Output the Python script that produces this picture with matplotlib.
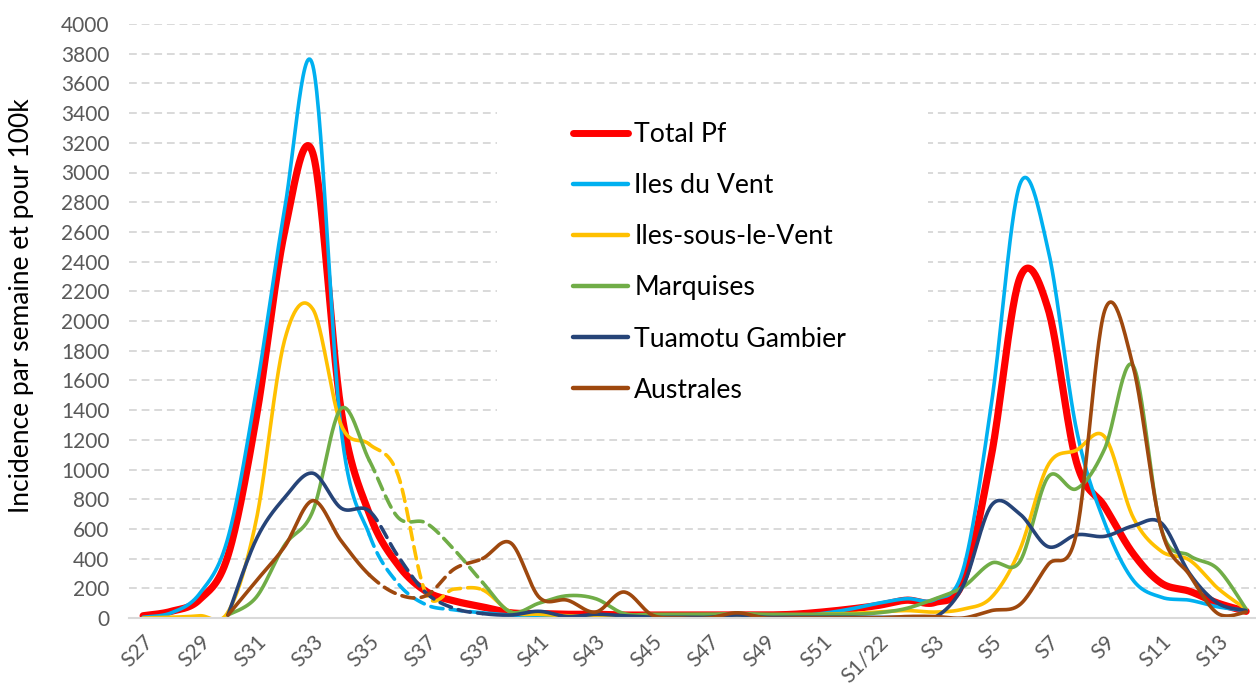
import numpy as np
import matplotlib
matplotlib.use("Agg")
import matplotlib.pyplot as plt
from matplotlib.lines import Line2D
from matplotlib.patches import Rectangle

plt.rcParams['font.family'] = ['Lato', 'DejaVu Sans']

# weekly incidence per 100k, S27/2021 -> S14/2022
weeks = ['S27', 'S28', 'S29', 'S30', 'S31', 'S32', 'S33', 'S34', 'S35', 'S36',
         'S37', 'S38', 'S39', 'S40', 'S41', 'S42', 'S43', 'S44', 'S45', 'S46',
         'S47', 'S48', 'S49', 'S50', 'S51', 'S52', 'S1/22', 'S2', 'S3', 'S4',
         'S5', 'S6', 'S7', 'S8', 'S9', 'S10', 'S11', 'S12', 'S13', 'S14']

total_pf = [15, 45, 125, 420, 1350, 2600, 3130, 1400, 700, 360,
            180, 115, 75, 35, 30, 25, 25, 20, 20, 20,
            20, 20, 20, 25, 40, 60, 85, 120, 105, 250,
            1100, 2290, 2080, 1050, 750, 435, 235, 180, 100, 45]

iles_du_vent = [5, 35, 165, 540, 1530, 2750, 3720, 1270, 560, 235,
                90, 55, 35, 20, 15, 10, 10, 8, 8, 8,
                8, 8, 8, 10, 30, 60, 100, 130, 125, 330,
                1450, 2920, 2480, 1270, 640, 256, 140, 120, 75, 50]

iles_sous_le_vent = [0, 5, 15, 40, 660, 1870, 2080, 1300, 1170, 970,
                     165, 195, 190, 40, 25, 15, 10, 10, 5, 5,
                     5, 5, 5, 5, 25, 30, 40, 50, 40, 60,
                     140, 460, 1030, 1130, 1220, 680, 450, 390, 200, 60]

marquises = [None, None, None, 20, 140, 490, 720, 1410, 1060, 680,
             640, 460, 240, 40, 100, 150, 130, 30, 25, 25,
             25, 30, 25, 25, 25, 25, 35, 65, 130, 210,
             370, 380, 950, 870, 1140, 1700, 600, 420, 330, 60]

tuamotu_gambier = [None, None, None, 20, 530, 810, 975, 740, 720, 420,
                   170, 65, 30, 20, 45, 10, 25, 15, 5, 5,
                   5, 20, 5, 5, 5, 5, 5, 5, 5, 220,
                   760, 700, 480, 560, 550, 620, 640, 300, 100, 50]

australes = [None, None, None, 20, 250, 480, 790, 520, 290, 160,
             150, 330, 400, 505, 140, 120, 40, 175, 20, 0,
             0, 35, 0, 0, 0, 0, 0, 10, 10, 0,
             50, 90, 360, 570, 2070, 1700, 600, 290, 30, 40]

# provisional weeks drawn dashed (segments S35 -> S39)
dash_start, dash_end = 8, 12

series = [
    ('Total Pf', total_pf, '#FF0000', 5.2, False),
    ('Iles du Vent', iles_du_vent, '#00B0F0', 2.6, True),
    ('Iles-sous-le-Vent', iles_sous_le_vent, '#FFC000', 2.6, True),
    ('Marquises', marquises, '#70AD47', 2.6, True),
    ('Tuamotu Gambier', tuamotu_gambier, '#264478', 2.6, True),
    ('Australes', australes, '#9E480E', 2.6, True),
]


def bezier_piece(pts, i, n=30):
    # Excel-like smoothing: cubic bezier with catmull-rom control points
    m = len(pts)
    p0 = pts[max(i - 1, 0)]
    p1 = pts[i]
    p2 = pts[i + 1]
    p3 = pts[min(i + 2, m - 1)]
    c1 = p1 + (p2 - p0) / 6.0
    c2 = p2 - (p3 - p1) / 6.0
    t = np.linspace(0, 1, n)[:, None]
    return (1 - t) ** 3 * p1 + 3 * (1 - t) ** 2 * t * c1 + 3 * (1 - t) * t ** 2 * c2 + t ** 3 * p2


def draw_series(ax, values, color, lw, dashed_part, z):
    idx = [i for i, v in enumerate(values) if v is not None]
    pts = np.array([[i, values[i]] for i in idx], dtype=float)
    runs = {'solid': [], 'dash': []}
    cur_kind, cur = None, []
    for k in range(len(pts) - 1):
        i0 = idx[k]
        kind = 'dash' if (dashed_part and dash_start <= i0 < dash_end) else 'solid'
        seg = bezier_piece(pts, k)
        if kind != cur_kind and cur:
            runs[cur_kind].append(np.vstack(cur))
            cur = []
        cur_kind = kind
        cur.append(seg)
    if cur:
        runs[cur_kind].append(np.vstack(cur))
    for r in runs['solid']:
        ax.plot(r[:, 0], r[:, 1], color=color, lw=lw, solid_capstyle='round',
                solid_joinstyle='round', zorder=z)
    for r in runs['dash']:
        ax.plot(r[:, 0], r[:, 1], color=color, lw=lw, linestyle=(0, (3.4, 2.0)),
                dash_capstyle='round', zorder=z)


fig = plt.figure(figsize=(12.56, 6.84), dpi=100)
ax = fig.add_axes([129 / 1256, 66 / 684, 1 - 129 / 1256, 594 / 684])

ax.set_xlim(-0.5, 39.35)
ax.set_ylim(0, 4000)
ax.set_yticks(np.arange(0, 4001, 200))
ax.set_yticklabels([str(v) for v in range(0, 4001, 200)])
ax.set_xticks(range(0, len(weeks), 2))
ax.set_xticklabels(weeks[::2], rotation=45, ha='right', va='top', rotation_mode='anchor')

ax.set_axisbelow(True)
ax.yaxis.grid(True, color='#D9D9D9', linestyle=(0, (4, 2.5)), linewidth=1.4)
ax.tick_params(axis='both', length=0, labelcolor='#595959', labelsize=15)
ax.tick_params(axis='y', pad=14)
ax.tick_params(axis='x', pad=10)
for s in ['top', 'right', 'left']:
    ax.spines[s].set_visible(False)
ax.spines['bottom'].set_color('#D9D9D9')
ax.spines['bottom'].set_linewidth(1.5)

# white legend area hiding the gridlines
ax.add_patch(Rectangle((497 / 1256, 1 - 425 / 684), (928 - 497) / 1256, (425 - 95) / 684,
                       transform=fig.transFigure, facecolor='white', edgecolor='none',
                       zorder=1))

# Excel draws series in order, the last one on top
for z, (name, vals, color, lw, dashed) in enumerate(series):
    draw_series(ax, vals, color, lw, dashed, 2 + z * 0.1)

handles = [Line2D([0], [0], color=c, lw=(5.0 if n == 'Total Pf' else 3.2),
                  solid_capstyle='round') for n, v, c, l, d in series]
fig.legend(handles, [s[0] for s in series], loc='upper left',
           bbox_to_anchor=(573 / 1256, 1 - 122 / 684), bbox_transform=fig.transFigure,
           frameon=False, fontsize=19.2, handlelength=2.05, handletextpad=0.25,
           labelspacing=0.98, borderpad=0, borderaxespad=0)

fig.text(22 / 1256, 0.553, 'Incidence par semaine et pour 100k', rotation=90,
         ha='center', va='center', fontsize=19, color='black')

fig.savefig('out.png', dpi=100)
